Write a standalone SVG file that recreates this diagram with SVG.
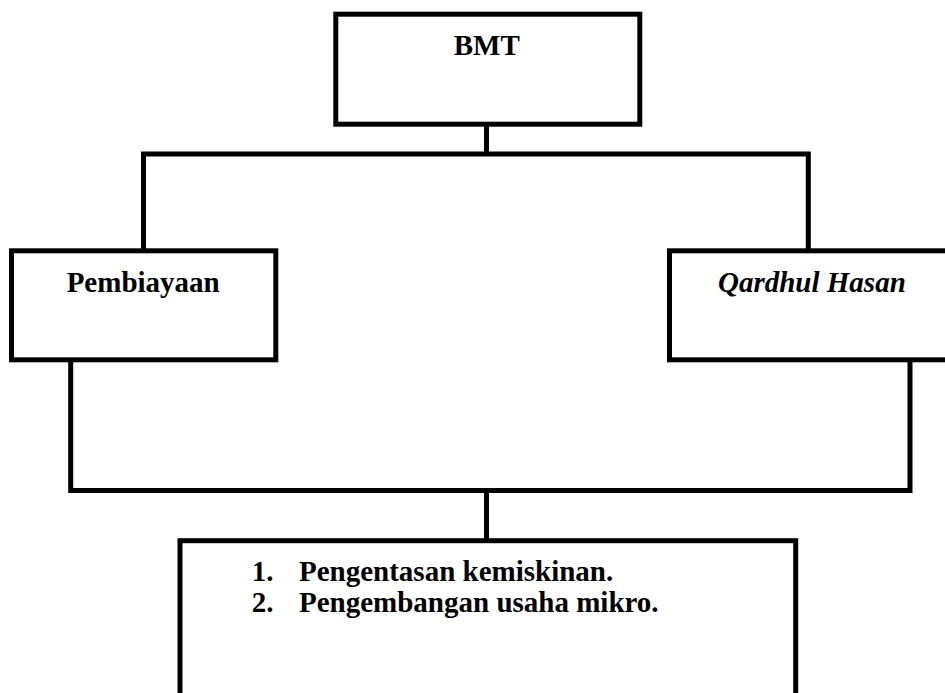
<svg xmlns="http://www.w3.org/2000/svg" width="945" height="693" viewBox="0 0 945 693">
<style>
.box{fill:#fff;stroke:#000;stroke-width:5}
.ln{fill:none;stroke:#000;stroke-width:5;stroke-linejoin:miter;stroke-linecap:butt}
.t{font-family:"Liberation Serif","Times New Roman",serif;font-weight:bold;font-size:29px;fill:#000}
.i{font-style:italic}
</style>
<rect width="945" height="693" fill="#fff"/>
<g id="connectors">
<path class="ln" d="M486.5 126 V154"/>
<path class="ln" d="M143.5 249 V154 H808.3 V249"/>
<path class="ln" d="M70.7 361 V490.5 H910 V361"/>
<path class="ln" d="M486.5 490.5 V539"/>
</g>
<g id="bmt">
<rect class="box" x="335.8" y="14.2" width="304" height="110"/>
<text class="t" x="486.8" y="55" text-anchor="middle">BMT</text>
</g>
<g id="pembiayaan">
<rect class="box" x="11.5" y="250.8" width="264.3" height="109"/>
<text class="t" x="143.2" y="291.7" text-anchor="middle">Pembiayaan</text>
</g>
<g id="qardhul">
<rect class="box" x="669.5" y="250.8" width="300" height="109"/>
<text class="t i" x="718" y="292">Qardhul Hasan</text>
</g>
<g id="tujuan">
<rect class="box" x="180" y="540.7" width="615.7" height="200"/>
<text class="t" x="251.7" y="581">1.</text>
<text class="t" x="299" y="581">Pengentasan kemiskinan.</text>
<text class="t" x="251.7" y="612">2.</text>
<text class="t" x="299" y="612">Pengembangan usaha mikro.</text>
</g>
</svg>
